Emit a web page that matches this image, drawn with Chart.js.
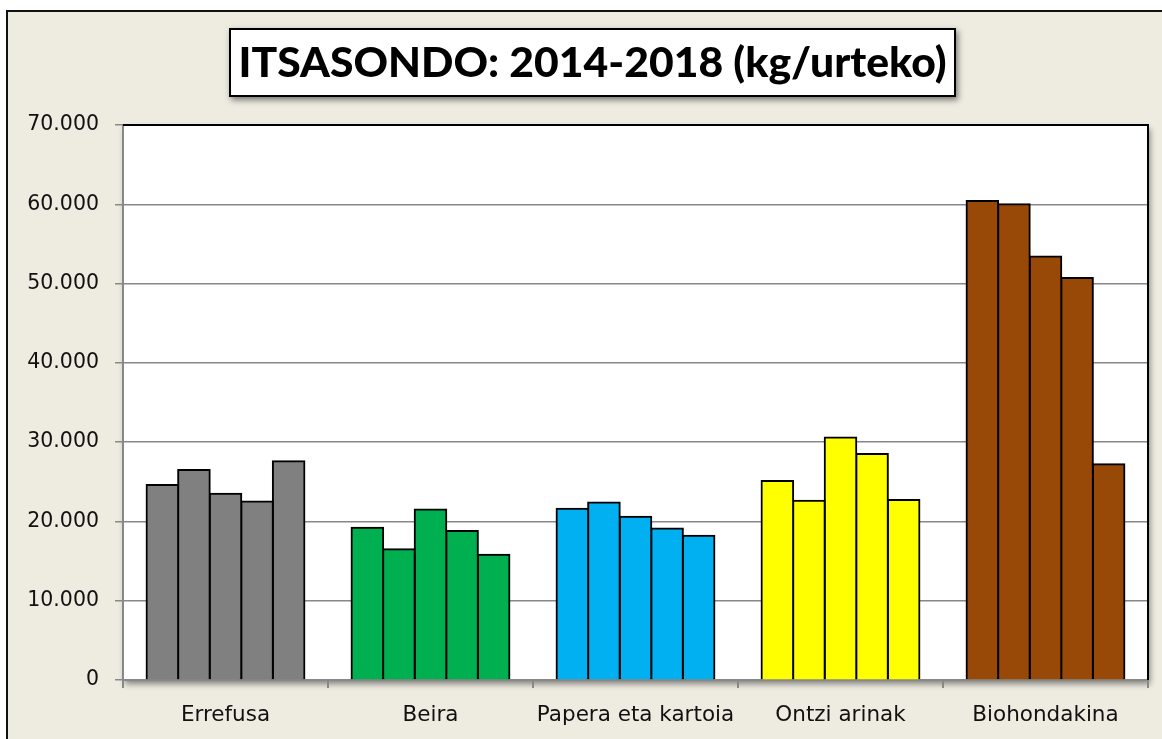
<!DOCTYPE html>
<html>
<head>
<meta charset="utf-8">
<script src="https://cdn.jsdelivr.net/npm/chart.js@4.4.0/dist/chart.umd.min.js"></script>
<style>
  html, body { margin: 0; padding: 0; background: #fff; overflow: hidden; }
  #frame { position: absolute; left: 6px; top: 10px; width: 1200px; height: 800px;
           border-left: 2px solid #111; border-top: 2px solid #111; background: #EEECE1; }
  #wrap { position: absolute; left: 0; top: 0; width: 1162px; height: 739px; }
</style>
</head>
<body>
<div id="frame"></div>
<div id="wrap"><canvas id="chart"></canvas></div>
<script>
// categorías y valores (kg/urteko)
const categories = ['Errefusa', 'Beira', 'Papera eta kartoia', 'Ontzi arinak', 'Biohondakina'];
const years = ['2014', '2015', '2016', '2017', '2018'];
const values2014 = [24600, 19200, 21600, 25100, 60400];
const values2015 = [26500, 16500, 22400, 22600, 60000];
const values2016 = [23500, 21500, 20600, 30600, 53400];
const values2017 = [22500, 18800, 19100, 28500, 50700];
const values2018 = [27600, 15800, 18200, 22700, 27200];
const categoryColors = ['#808080', '#00B050', '#00B0F0', '#FFFF00', '#984807'];
const titleText = 'ITSASONDO: 2014-2018 (kg/urteko)';

const seriesValues = [values2014, values2015, values2016, values2017, values2018];

// fondo blanco del área de trazado + título en recuadro
const framePlugin = {
  id: 'framePlugin',
  beforeDraw(chart) {
    const { ctx, chartArea: a } = chart;
    ctx.save();
    ctx.shadowColor = 'rgba(0,0,0,0.45)';
    ctx.shadowBlur = 6;
    ctx.shadowOffsetX = 2;
    ctx.shadowOffsetY = 4;
    ctx.fillStyle = '#fff';
    ctx.fillRect(a.left, a.top, a.right - a.left, a.bottom - a.top);
    ctx.restore();

    // recuadro del título
    ctx.save();
    ctx.shadowColor = 'rgba(0,0,0,0.5)';
    ctx.shadowBlur = 6;
    ctx.shadowOffsetX = 2;
    ctx.shadowOffsetY = 3;
    ctx.fillStyle = '#fff';
    ctx.fillRect(229, 28, 727, 69);
    ctx.restore();
    ctx.save();
    ctx.strokeStyle = '#000';
    ctx.lineWidth = 2;
    ctx.strokeRect(230, 29, 725, 67);
    ctx.font = "900 41px Lato, 'Liberation Sans Narrow', sans-serif";
    const w = ctx.measureText(titleText).width;
    const sx = 708 / w;
    ctx.translate(592.5, 64);
    ctx.scale(sx, 1);
    ctx.fillStyle = '#000';
    ctx.textAlign = 'center';
    ctx.textBaseline = 'middle';
    ctx.fillText(titleText, 0, 0);
    ctx.restore();
  },
  afterDraw(chart) {
    const { ctx, chartArea: a } = chart;
    ctx.save();
    ctx.strokeStyle = '#000';
    ctx.lineWidth = 2;
    ctx.beginPath();
    ctx.moveTo(a.left, a.top);
    ctx.lineTo(a.right, a.top);
    ctx.lineTo(a.right, a.bottom);
    ctx.stroke();
    ctx.restore();
  }
};

new Chart(document.getElementById('chart'), {
  type: 'bar',
  data: {
    labels: categories,
    datasets: years.map((y, i) => ({
      label: y,
      data: seriesValues[i],
      backgroundColor: categoryColors,
      borderColor: '#000',
      borderWidth: 2,
      inflateAmount: 1,
      barPercentage: 1.0,
      categoryPercentage: 0.77
    }))
  },
  options: {
    responsive: true,
    maintainAspectRatio: false,
    animation: false,
    layout: { padding: { top: 125, right: 14, left: 0, bottom: 0 } },
    plugins: {
      legend: { display: false },
      title: { display: false },
      tooltip: { enabled: false }
    },
    scales: {
      x: {
        afterFit: s => { s.height = 59; },
        grid: { drawOnChartArea: false, drawTicks: true, tickLength: 8, color: '#888', lineWidth: 2, offset: true },
        border: { display: true, color: '#888', width: 2 },
        ticks: { color: '#111', padding: 15, font: { family: "'DejaVu Sans', sans-serif", size: 21.5 } }
      },
      y: {
        min: 0,
        max: 70000,
        afterFit: s => { s.width = 123; },
        grid: { color: '#888', lineWidth: 1.5, tickLength: 8, drawTicks: true },
        border: { display: true, color: '#888', width: 2 },
        ticks: {
          stepSize: 10000,
          color: '#111',
          padding: 16,
          font: { family: "'DejaVu Sans', sans-serif", size: 20.5 },
          callback: v => String(v).replace(/\B(?=(\d{3})+(?!\d))/g, '.')
        }
      }
    }
  },
  plugins: [framePlugin]
});
</script>
</body>
</html>
